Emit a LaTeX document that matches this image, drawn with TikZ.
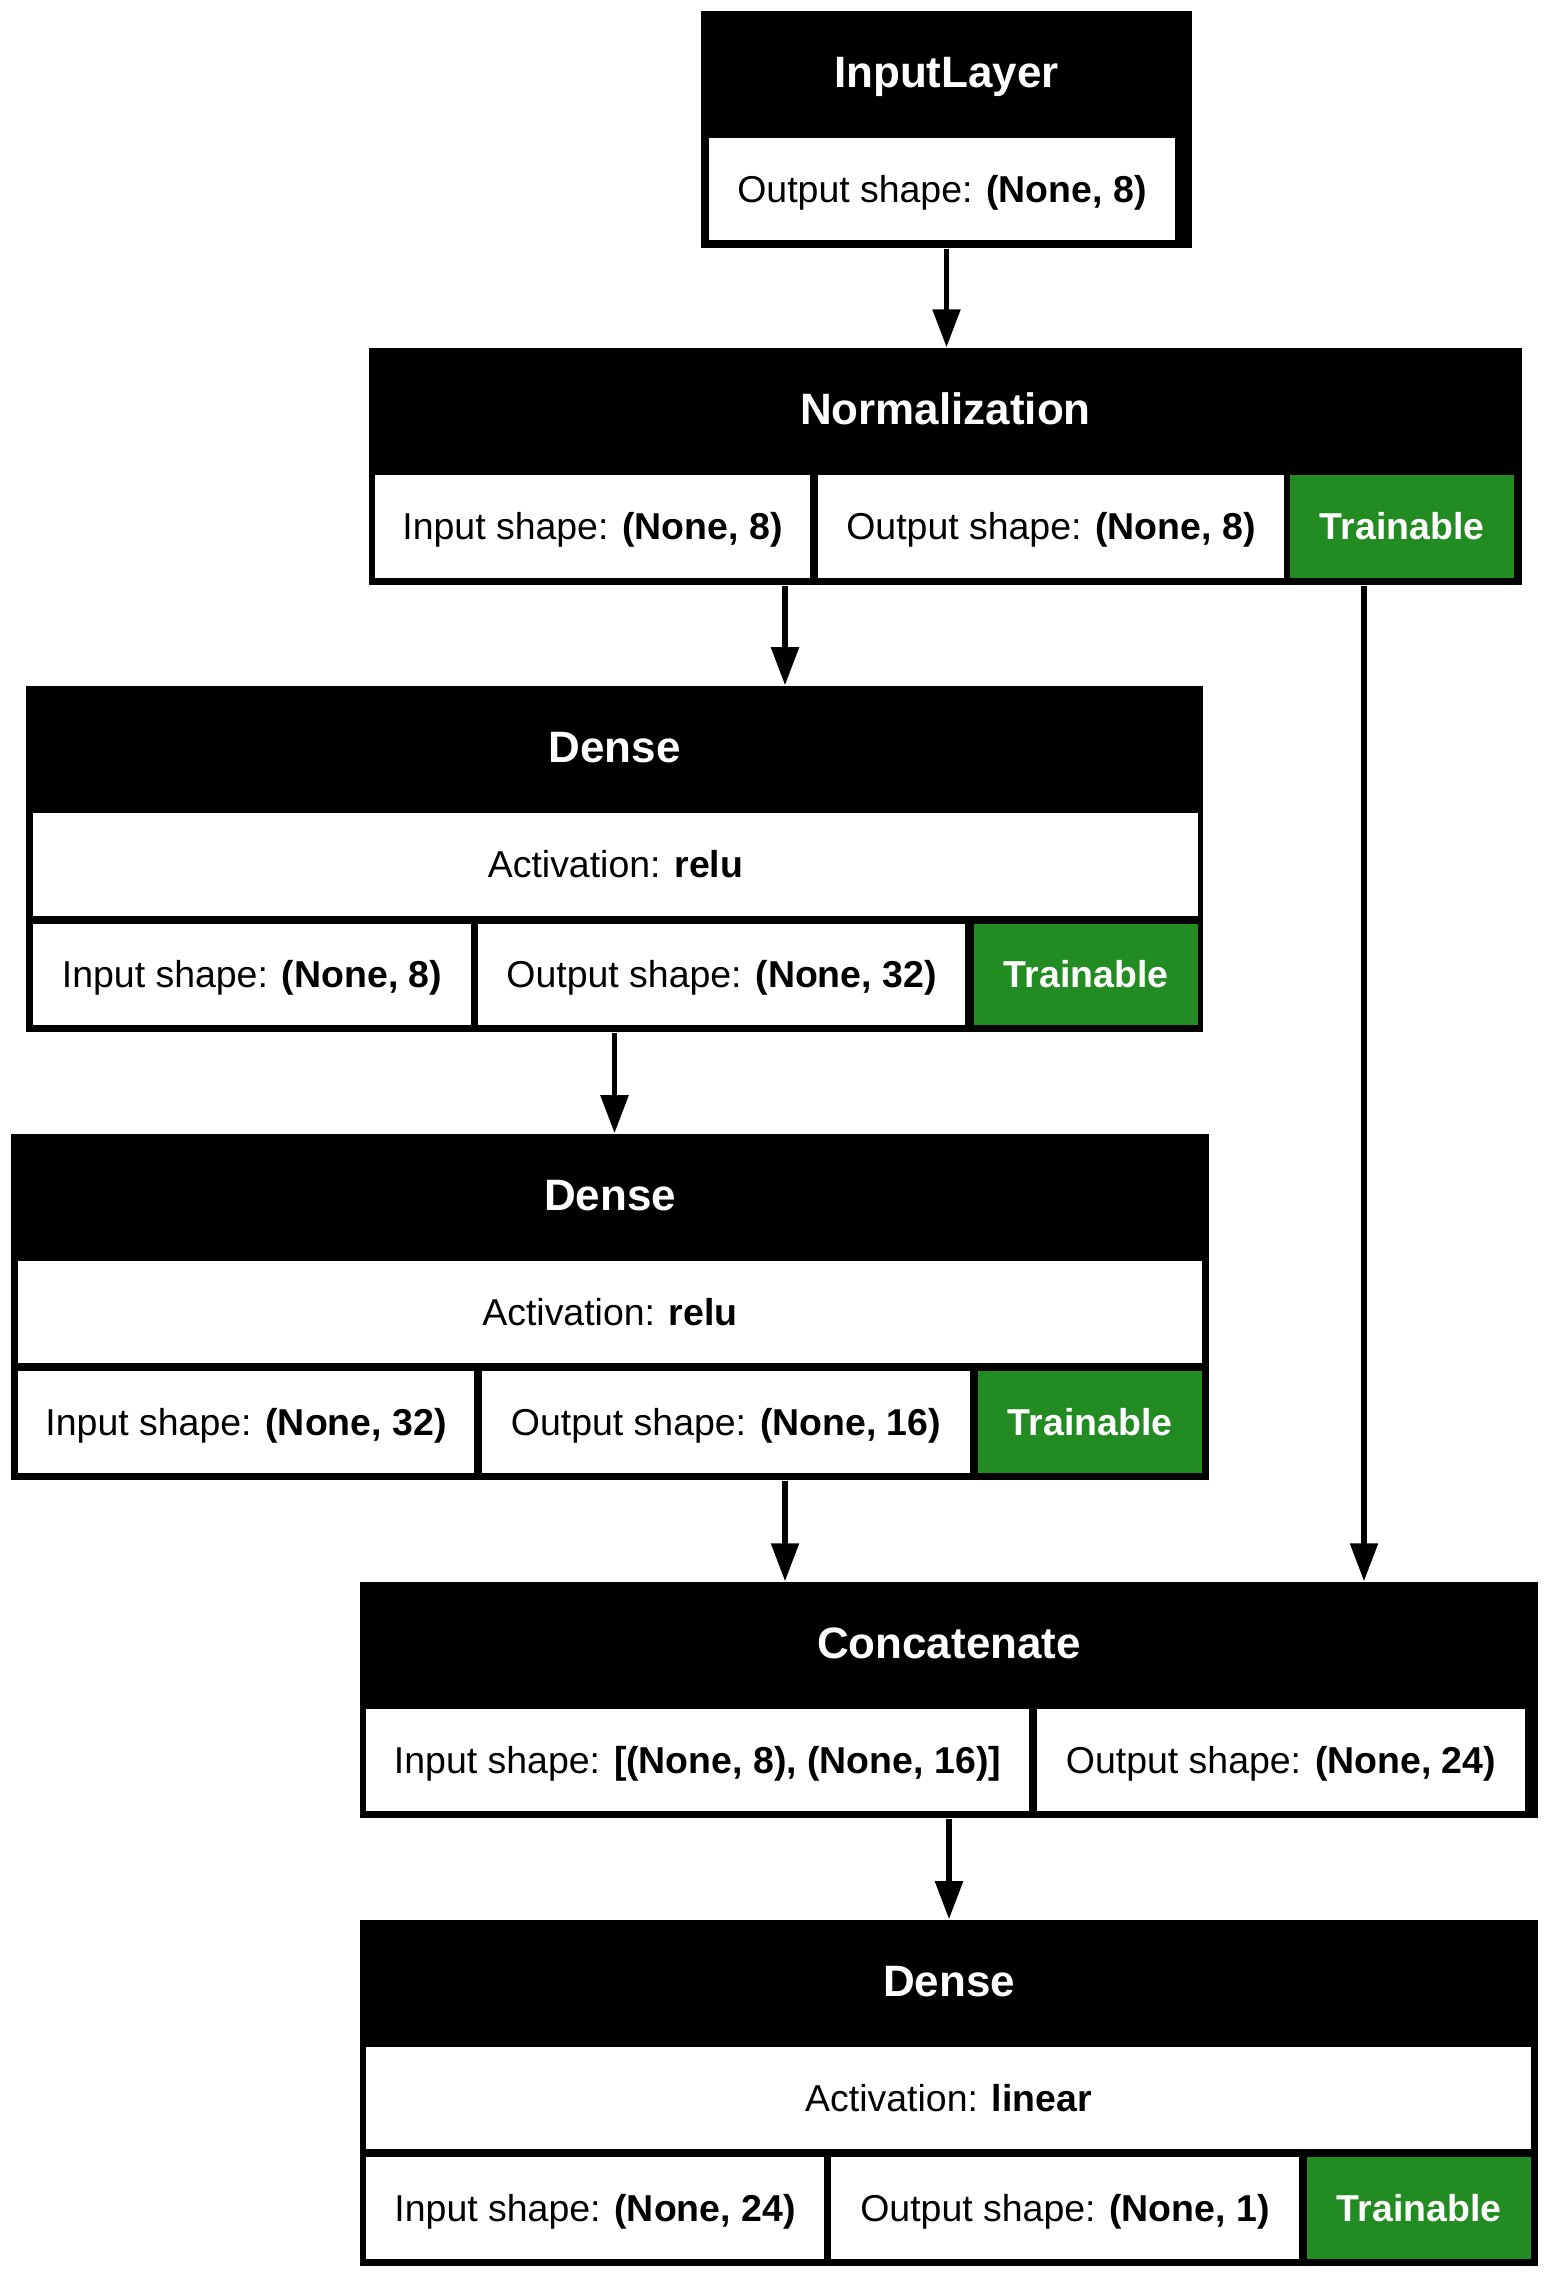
\documentclass[tikz,border=0pt]{standalone}
\usepackage{fontspec}
\setmainfont{Liberation Sans}
\usepackage{tikz}
\usetikzlibrary{arrows.meta}
\definecolor{trainGreen}{HTML}{228B22}

\begin{document}
\begin{tikzpicture}
[x = 0.01cm, y = -0.01cm]
\tikzset{
	layer node/.style = {rectangle, fill = black, inner sep = 0},
	head node/.style = {text = white, inner sep = 0, text height = 8.9pt, text depth = 0pt, font = \fontsize{12.5}{15}\selectfont\bfseries},
	cell node/.style = {rectangle, fill = white, inner sep = 0, text height = 7.6pt, text depth = 0pt, font = \fontsize{10.65}{13}\selectfont},
	train node/.style = {cell node, fill = trainGreen, text = white, font = \fontsize{10.65}{13}\selectfont\bfseries},
	link arrow/.style = {line width = 1.5pt, -{Triangle[length = 10.8pt, width = 7.7pt]}},
}
\useasboundingbox (0,0) rectangle (1549,2278);

% InputLayer
\node (input) [layer node, minimum width = 4.91cm, minimum height = 2.37cm] at (946.5,129.5) {};
\node (input-h) [head node] at (946.5,72) {InputLayer};
\node (input-o) [cell node, minimum width = 4.66cm, minimum height = 1.02cm] at (942,189) {Output shape: \textbf{(None, 8)}};

% Normalization
\node (norm) [layer node, minimum width = 11.53cm, minimum height = 2.37cm] at (945.5,466.5) {};
\node (norm-h) [head node] at (945.5,409) {Normalization};
\node (norm-i) [cell node, minimum width = 4.35cm, minimum height = 1.03cm] at (592.5,526.5) {Input shape: \textbf{(None, 8)}};
\node (norm-o) [cell node, minimum width = 4.66cm, minimum height = 1.03cm] at (1051,526.5) {Output shape: \textbf{(None, 8)}};
\node (norm-t) [train node, minimum width = 2.24cm, minimum height = 1.03cm] at (1402,526.5) {Trainable};

% Dense 1
\node (dense1) [layer node, minimum width = 11.77cm, minimum height = 3.46cm] at (614.5,859) {};
\node (dense1-h) [head node] at (614.5,747) {Dense};
\node (dense1-a) [cell node, minimum width = 11.65cm, minimum height = 1.03cm] at (615.5,864.5) {Activation: \textbf{relu}};
\node (dense1-i) [cell node, minimum width = 4.38cm, minimum height = 1.01cm] at (252,974.5) {Input shape: \textbf{(None, 8)}};
\node (dense1-o) [cell node, minimum width = 4.87cm, minimum height = 1.01cm] at (721.5,974.5) {Output shape: \textbf{(None, 32)}};
\node (dense1-t) [train node, minimum width = 2.24cm, minimum height = 1.01cm] at (1086,974.5) {Trainable};

% Dense 2
\node (dense2) [layer node, minimum width = 11.98cm, minimum height = 3.46cm] at (610,1307) {};
\node (dense2-h) [head node] at (610,1195) {Dense};
\node (dense2-a) [cell node, minimum width = 11.84cm, minimum height = 1.02cm] at (610,1312) {Activation: \textbf{relu}};
\node (dense2-i) [cell node, minimum width = 4.56cm, minimum height = 1.02cm] at (246,1422) {Input shape: \textbf{(None, 32)}};
\node (dense2-o) [cell node, minimum width = 4.88cm, minimum height = 1.02cm] at (726,1422) {Output shape: \textbf{(None, 16)}};
\node (dense2-t) [train node, minimum width = 2.24cm, minimum height = 1.02cm] at (1090,1422) {Trainable};

% Concatenate
\node (concat) [layer node, minimum width = 11.78cm, minimum height = 2.36cm] at (949,1700) {};
\node (concat-h) [head node] at (949,1643) {Concatenate};
\node (concat-i) [cell node, minimum width = 6.63cm, minimum height = 1.02cm] at (697.5,1760) {Input shape: \textbf{[(None, 8), (None, 16)]}};
\node (concat-o) [cell node, minimum width = 4.88cm, minimum height = 1.02cm] at (1281,1760) {Output shape: \textbf{(None, 24)}};

% Dense 3
\node (dense3) [layer node, minimum width = 11.78cm, minimum height = 3.46cm] at (949,2093) {};
\node (dense3-h) [head node] at (949,1981) {Dense};
\node (dense3-a) [cell node, minimum width = 11.65cm, minimum height = 1.02cm] at (948.5,2098) {Activation: \textbf{linear}};
\node (dense3-i) [cell node, minimum width = 4.58cm, minimum height = 1.02cm] at (595,2208) {Input shape: \textbf{(None, 24)}};
\node (dense3-o) [cell node, minimum width = 4.68cm, minimum height = 1.02cm] at (1065,2208) {Output shape: \textbf{(None, 1)}};
\node (dense3-t) [train node, minimum width = 2.24cm, minimum height = 1.02cm] at (1419,2208) {Trainable};

% edges
\coordinate (col a) at (785,0);
\coordinate (col b) at (1364,0);
\draw [link arrow] (input.south) -- (input.south |- norm.north);
\draw [link arrow] (norm.south -| col a) -- (dense1.north -| col a);
\draw [link arrow] (norm.south -| col b) -- (concat.north -| col b);
\draw [link arrow] (dense1.south) -- (dense1.south |- dense2.north);
\draw [link arrow] (dense2.south -| col a) -- (concat.north -| col a);
\draw [link arrow] (concat.south) -- (concat.south |- dense3.north);

\end{tikzpicture}
\end{document}
